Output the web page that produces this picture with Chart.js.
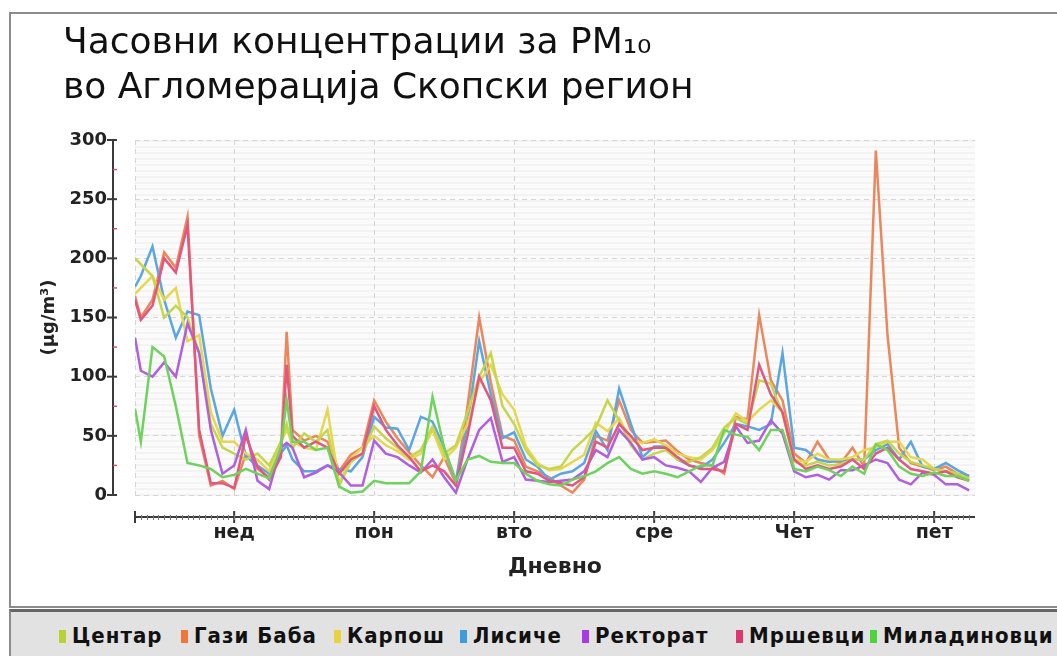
<!DOCTYPE html>
<html>
<head>
<meta charset="utf-8">
<script src="https://cdn.jsdelivr.net/npm/chart.js@4"></script>
<style>
body { margin: 0; width: 1057px; height: 656px; overflow: hidden; background: #fff; position: relative; font-family: 'DejaVu Sans', sans-serif; }
#frame { position: absolute; left: 9px; top: 12px; width: 1100px; height: 592px; border: 2px solid #8c8c8c; }
#chart { position: absolute; left: 0; top: 0; }
#title { position: absolute; left: 63px; top: 18px; font-size: 36px; line-height: 45px; color: #111; white-space: nowrap; }
#legend { position: absolute; left: 9px; top: 609px; width: 1100px; height: 47px; background: #e2e2e2; border-top: 3px solid #666; border-left: 2px solid #8c8c8c; }
.item { position: absolute; top: 11px; font: bold 22px 'DejaVu Sans Condensed', 'DejaVu Sans', sans-serif; letter-spacing: 1px; color: #111; white-space: nowrap; }
.sw { display: inline-block; width: 7px; height: 13px; margin-right: 6px; }
</style>
</head>
<body>
<div id="frame"></div>
<canvas id="chart" width="1057" height="656"></canvas>
<div id="title">Часовни концентрации за PM₁₀<br>во Агломерација Скопски регион</div>
<div id="legend"></div>
<script>
// hours counted from Sunday 00:00
const hours = [-17,-16,-14,-12,-10,-8,-6,-4,-2,0,2,4,6,8,9,10,12,14,16,18,20,22,24,26,28,30,32,34,36,38,40,42,44,46,48,50,52,54,56,58,60,62,64,66,68,70,72,74,76,78,80,82,84,86,88,90,92,94,96,98,100,102,104,106,108,110,112,114,116,118,120,122,124,126];

const dayTicks = [-17, 0, 24, 48, 72, 96, 120];
const dayLabels = ['', 'нед', 'пон', 'вто', 'сре', 'Чет', 'пет'];
const yTicks = [0, 50, 100, 150, 200, 250, 300];
const yMinor = [25, 75, 125, 175, 225, 275];

const centar = [200,195,185,150,160,150,120,60,40,35,30,35,25,45,60,40, 52,45,55,8,28,35,58,48,40,32,38,58,35,42,70,100,120,75, 60,38,25,22,24,38,47,57,80,63,42,30,35, 38,30,28,32,40,57,65,60,97,94,69,28,25, 28,25,26,30,30,43,46,35,28,25,22,20,18,14];
const gaziBaba = [168,150,165,205,192,235,50,8,12,5,35,22,15,35,138,55, 46,50,45,20,34,40,80,62,48,36,25,15,32,10,75,150,95,50, 46,24,20,15,8,2,13,50,46,80,55,44,45, 46,37,30,27,25,18,66,64,152,97,80,35,27, 45,30,27,40,24,291,135,40,27,24,21,24,18,16];
const karposh = [170,175,185,165,175,130,135,70,45,45,35,30,20,45,55,45, 40,38,72,10,31,40,50,42,37,30,35,55,30,40,60,95,110,85, 72,41,27,21,22,28,34,61,54,65,46,44,47, 42,35,32,30,38,52,69,62,72,80,70,30,28, 35,30,30,32,38,40,45,45,32,30,22,20,18,13];
const lisiche = [176,185,210,165,133,155,152,90,50,72,33,25,18,35,42,30, 20,20,25,22,20,32,66,57,56,38,66,62,40,12,60,130,85,48, 53,30,24,13,18,20,27,54,38,90,60,32,41, 41,30,25,23,30,44,60,58,55,60,120,40,38, 30,28,29,30,30,38,43,30,45,24,22,27,21,16];
const rektorat = [133,105,100,112,100,145,120,55,18,25,55,12,5,40,44,40, 15,19,25,19,8,8,46,35,32,25,19,30,15,2,30,55,65,28, 32,13,12,11,12,13,20,38,32,55,44,30,32, 25,23,20,11,23,28,58,44,46,63,52,20,15, 17,13,21,21,25,30,27,13,9,19,17,9,9,4];
const mrshevci = [165,148,160,200,188,228,55,10,10,6,50,24,13,32,110,50, 40,45,40,18,30,35,75,55,42,32,20,25,20,8,50,100,80,40, 40,20,18,12,10,8,15,45,40,60,50,38,40, 40,32,25,22,22,20,60,55,110,85,70,30,22, 25,22,24,30,22,35,40,30,22,20,18,20,15,12];
const miladinovci = [73,45,125,117,75,27,25,22,15,17,22,18,14,40,80,45, 45,38,40,7,2,3,12,10,10,10,20,83,40,12,30,33,28,27, 27,18,12,9,8,13,16,20,27,32,22,18,20, 18,15,20,25,25,55,51,49,38,55,55,22,20, 24,21,16,24,18,43,38,24,18,16,19,16,16,12];

const stations = [
    { name: 'Центар', data: centar, line: '#c6d64c', box: '#b7d232', legendX: 57 },
    { name: 'Гази Баба', data: gaziBaba, line: '#ea875c', box: '#ef7638', legendX: 179 },
    { name: 'Карпош', data: karposh, line: '#e7d650', box: '#e8d33e', legendX: 332 },
    { name: 'Лисиче', data: lisiche, line: '#5ba6e2', box: '#3d9be0', legendX: 458 },
    { name: 'Ректорат', data: rektorat, line: '#b05fdf', box: '#a63ae6', legendX: 580 },
    { name: 'Мршевци', data: mrshevci, line: '#e2577f', box: '#e03670', legendX: 734 },
    { name: 'Миладиновци', data: miladinovci, line: '#70d25e', box: '#4cd43c', legendX: 868 }
];

// draw order: green at the bottom, Gazi Baba on top
const drawOrder = ['Миладиновци', 'Мршевци', 'Ректорат', 'Центар', 'Карпош', 'Лисиче', 'Гази Баба'];

const legend = document.getElementById('legend');
stations.forEach(s => {
    const it = document.createElement('div');
    it.className = 'item';
    it.style.left = (s.legendX - 9) + 'px';
    it.innerHTML = '<span class="sw" style="background:' + s.box + '"></span>' + s.name;
    legend.appendChild(it);
});

const axesPlugin = {
    id: 'axesPlugin',
    beforeDraw(chart) {
        const { ctx, chartArea: a } = chart;
        ctx.save();
        ctx.fillStyle = '#fbfbfb';
        ctx.fillRect(a.left, a.top, a.right - a.left, a.bottom - a.top);
        ctx.fillStyle = '#f3f3f3';
        for (let y = a.top; y < a.bottom; y += 6) ctx.fillRect(a.left, y, a.right - a.left, 2);
        ctx.restore();
    },
    afterDraw(chart) {
        const { ctx, chartArea: a, scales: { x, y } } = chart;
        ctx.save();
        ctx.strokeStyle = '#3a3a3a';
        ctx.lineWidth = 2;
        // y axis, detached from the plot
        const ax = a.left - 22;
        ctx.beginPath();
        ctx.moveTo(ax, y.getPixelForValue(300));
        ctx.lineTo(ax, y.getPixelForValue(0));
        ctx.stroke();
        yTicks.forEach(v => {
            const py = y.getPixelForValue(v);
            ctx.beginPath(); ctx.moveTo(ax - 6, py); ctx.lineTo(ax + 4, py); ctx.stroke();
        });
        ctx.strokeStyle = '#d0506a';
        ctx.lineWidth = 1.5;
        yMinor.forEach(v => {
            const py = y.getPixelForValue(v);
            ctx.beginPath(); ctx.moveTo(ax, py); ctx.lineTo(ax + 4, py); ctx.stroke();
        });
        // x axis
        const ay = a.bottom + 22;
        ctx.strokeStyle = '#3a3a3a';
        ctx.lineWidth = 2;
        ctx.beginPath();
        ctx.moveTo(x.getPixelForValue(-17), ay);
        ctx.lineTo(x.getPixelForValue(127), ay);
        ctx.stroke();
        dayTicks.forEach(v => {
            const px = x.getPixelForValue(v);
            ctx.beginPath(); ctx.moveTo(px, ay - 6); ctx.lineTo(px, ay + 6); ctx.stroke();
        });
        ctx.lineWidth = 1;
        ctx.strokeStyle = '#777';
        for (let h = -16; h < 127; h++) {
            const px = Math.round(x.getPixelForValue(h)) + 0.5;
            ctx.beginPath(); ctx.moveTo(px, ay - 2); ctx.lineTo(px, ay + 3); ctx.stroke();
        }
        ctx.restore();
    }
};

const datasets = drawOrder.map(n => {
    const s = stations.find(st => st.name === n);
    return {
        label: s.name,
        data: hours.map((h, i) => ({ x: h, y: s.data[i] })),
        borderColor: s.line,
        borderWidth: 2.5,
        pointRadius: 0,
        tension: 0,
        fill: false
    };
});

new Chart(document.getElementById('chart'), {
    type: 'line',
    data: { datasets },
    options: {
        responsive: false,
        animation: false,
        layout: { padding: { left: 0, top: 140, right: 82, bottom: 0 } },
        plugins: { legend: { display: false }, tooltip: { enabled: false } },
        scales: {
            x: {
                type: 'linear',
                min: -17,
                max: 127,
                afterBuildTicks: s => { s.ticks = dayTicks.map(v => ({ value: v })); },
                afterFit: s => { s.height = 161; },
                ticks: {
                    autoSkip: false,
                    maxRotation: 0,
                    padding: 27,
                    color: '#222',
                    font: { family: 'DejaVu Sans', weight: 'bold', size: 19 },
                    callback: v => dayLabels[dayTicks.indexOf(v)]
                },
                grid: { color: '#d6d6d6', drawTicks: false },
                border: { display: false, dash: [5, 4] },
                title: {
                    display: true,
                    text: 'Дневно',
                    color: '#222',
                    font: { family: 'DejaVu Sans', weight: 'bold', size: 22 },
                    padding: { top: 0, bottom: 76 }
                }
            },
            y: {
                min: 0,
                max: 300,
                afterBuildTicks: s => { s.ticks = yTicks.map(v => ({ value: v })); },
                afterFit: s => { s.width = 135; },
                ticks: {
                    padding: 28,
                    color: '#222',
                    font: { family: 'DejaVu Sans', weight: 'bold', size: 18 }
                },
                grid: { color: '#d6d6d6', drawTicks: false },
                border: { display: false, dash: [5, 4] },
                title: {
                    display: true,
                    text: '(µg/m³)',
                    color: '#222',
                    font: { family: 'DejaVu Sans', weight: 'bold', size: 18 },
                    padding: { top: 39, bottom: 0 }
                }
            }
        }
    },
    plugins: [axesPlugin]
});
</script>
</body>
</html>
